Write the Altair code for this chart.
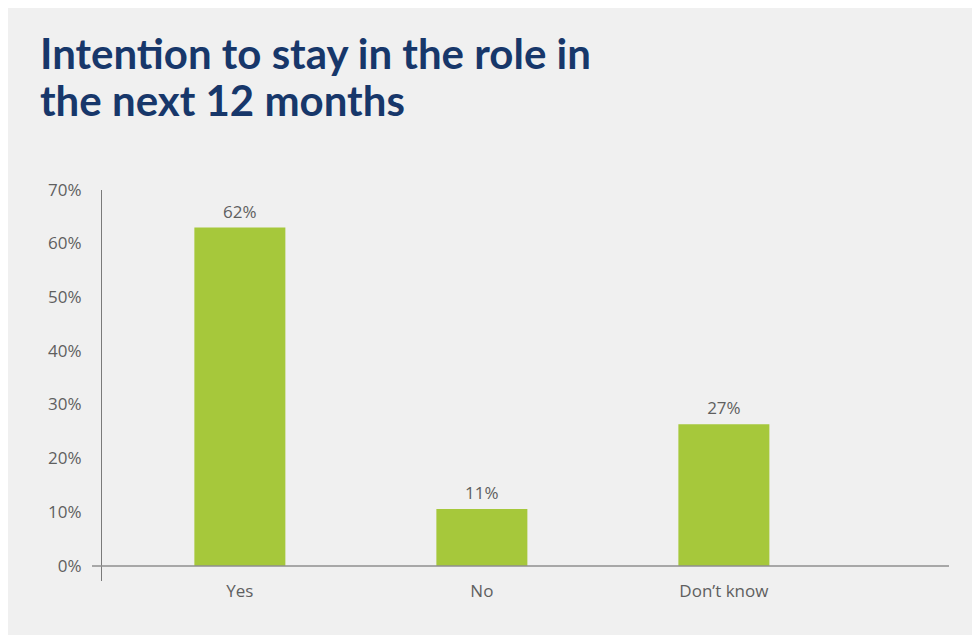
import altair as alt
import pandas as pd

categories = ["Yes", "No", "Don\u2019t know"]
values = [63.0, 10.6, 26.4]
value_labels = ["62%", "11%", "27%"]
y_ticks = [0, 10, 20, 30, 40, 50, 60, 70]

title_lines = ["Intention to stay in the role in", "the next 12 months"]

df = pd.DataFrame({"cat": categories, "val": values, "label": value_labels})

PW, PH = 848, 376
GREEN = "#a6c83b"
TEXT = "#5f5f5f"
NAVY = "#17376a"
FONT = "Open Sans"
FS = 17

x_enc = alt.X(
    "cat:N",
    sort=categories,
    scale=alt.Scale(paddingInner=0.624, paddingOuter=0.564, align=0.342),
    axis=alt.Axis(
        title=None, labelAngle=0, domain=False, ticks=False,
        labelPadding=17, labelFontSize=FS, labelColor=TEXT, labelFont=FONT,
        labelBaseline="top",
    ),
)
y_enc = alt.Y(
    "val:Q",
    scale=alt.Scale(domain=[0, 70], nice=False),
    axis=alt.Axis(
        title=None, values=y_ticks, labelExpr="datum.value + '%'",
        domain=False, ticks=False, grid=False, labelPadding=20,
        labelFontSize=FS, labelColor=TEXT, labelFont=FONT,
        labelBaseline="middle",
    ),
)

bars = alt.Chart(df).mark_bar(color=GREEN).encode(x=x_enc, y=y_enc)

texts = alt.Chart(df).mark_text(
    baseline="alphabetic", dy=-10, fontSize=FS, color=TEXT, font=FONT
).encode(x=alt.X("cat:N", sort=categories), y="val:Q", text="label:N")

hline = alt.Chart(pd.DataFrame({"v": [0]})).mark_rule(
    color="#8f8f8f", strokeWidth=1.5
).encode(y="v:Q", x=alt.value(-9), x2=alt.value(PW))

vline = alt.Chart(pd.DataFrame({"v": [0]})).mark_rule(
    color="#7a7a7a", strokeWidth=1
).encode(x=alt.value(0.5), y=alt.value(0), y2=alt.value(PH + 15))

chart = (
    alt.layer(bars, texts, vline, hline)
    .properties(
        width=PW,
        height=PH,
        background="#f0f0f0",
        padding={"left": 93, "top": 182, "right": 23, "bottom": 69},
        autosize=alt.AutoSizeParams(type="none"),
        title=alt.TitleParams(
            text=title_lines,
            anchor="start",
            frame="group",
            font="Lato",
            fontSize=42,
            fontWeight="bold",
            color=NAVY,
            lineHeight=47,
            baseline="alphabetic",
            offset=23,
            dx=-61,
        ),
    )
    .configure_view(stroke=None)
)

chart.save("out.html", embed_options={"renderer": "svg", "actions": False})
